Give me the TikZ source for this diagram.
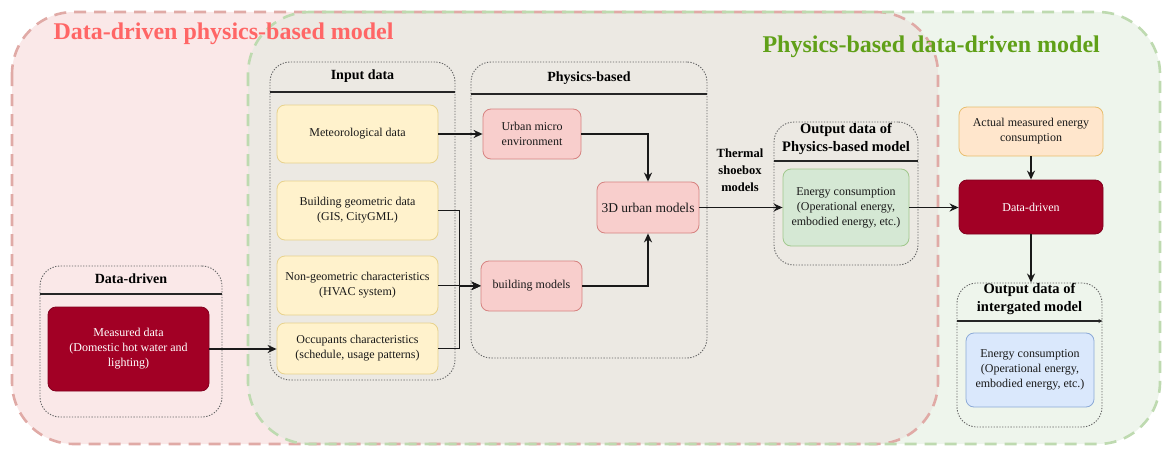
\documentclass[tikz,border=0pt]{standalone}
\usepackage{fontspec}
\setmainfont{Liberation Serif}
\usetikzlibrary{arrows.meta}

\definecolor{redzone}{RGB}{250,232,232}
\definecolor{greenzone}{RGB}{238,245,236}
\definecolor{bothzone}{RGB}{236,233,227}
\definecolor{reddash}{RGB}{224,170,166}
\definecolor{greendash}{RGB}{190,218,176}
\definecolor{redtitle}{RGB}{255,102,102}
\definecolor{greentitle}{RGB}{96,160,24}
\definecolor{yfill}{RGB}{255,242,204}
\definecolor{ydraw}{RGB}{232,210,140}
\definecolor{pfill}{RGB}{248,206,204}
\definecolor{pdraw}{RGB}{214,130,128}
\definecolor{gfill}{RGB}{213,232,212}
\definecolor{gdraw}{RGB}{160,200,140}
\definecolor{ofill}{RGB}{255,230,204}
\definecolor{odraw}{RGB}{232,190,110}
\definecolor{bfill}{RGB}{218,232,252}
\definecolor{bdraw}{RGB}{140,170,215}
\definecolor{crimson}{RGB}{162,0,37}
\definecolor{txt}{RGB}{25,25,25}

\tikzset{
  box/.style={rectangle, rounded corners=8pt, line width=0.8pt, align=center,
    inner sep=2pt, text=txt, font=\fontsize{12}{15}\selectfont},
  ybox/.style={box, fill=yfill, draw=ydraw},
  pbox/.style={box, fill=pfill, draw=pdraw},
  gbox/.style={box, fill=gfill, draw=gdraw},
  obox/.style={box, fill=ofill, draw=odraw},
  bbox/.style={box, fill=bfill, draw=bdraw},
  dbox/.style={box, fill=crimson, draw=crimson!80!black, text=white},
  cont/.style={rectangle, rounded corners=20pt, draw=black!60, line width=0.9pt,
    dash pattern=on 1.3pt off 1.5pt, inner sep=0pt},
  hdr/.style={font=\bfseries\fontsize{14}{17}\selectfont, align=center, text=black},
  hline/.style={line width=1.7pt, black!85},
  conn/.style={line width=1.8pt, black!90, -{Stealth[length=9pt,width=8pt]}},
  zone/.style={rounded corners=62pt},
  zoneline/.style={rounded corners=62pt, line width=2.6pt, dash pattern=on 12pt off 8pt},
  zonetitle/.style={anchor=west, font=\bfseries\fontsize{24}{28}\selectfont},
}

\begin{document}
\begin{tikzpicture}[x=1pt,y=-1pt]
\useasboundingbox (0,0) rectangle (1170,452);

% two overlapping model regions
\fill[zone, redzone] (12,12) rectangle (938,444);
\fill[zone, greenzone] (248,12) rectangle (1160,444);
\begin{scope}
  \clip[zone] (12,12) rectangle (938,444);
  \fill[zone, bothzone] (248,12) rectangle (1160,444);
\end{scope}
\draw[zoneline, reddash] (12,12) rectangle (938,444);
\draw[zoneline, greendash] (248,12) rectangle (1160,444);

\node[zonetitle, text=redtitle] (ttl1) at (50,34) {Data-driven physics-based model};
\node[zonetitle, text=greentitle] (ttl2) at (759,47) {Physics-based data-driven model};

% containers
\node[cont, minimum width=185pt, minimum height=318pt] (inputC) at (362.5,221) {};
\node[hdr] (inputH) at (362.5,76) {Input data};
\draw[hline] (inputC.west |- 0,92) -- (inputC.east |- 0,92);

\node[cont, minimum width=236pt, minimum height=296pt] (physC) at (589,210) {};
\node[hdr] (physH) at (589,78) {Physics-based};
\draw[hline] (physC.west |- 0,94) -- (physC.east |- 0,94);

\node[cont, minimum width=144pt, minimum height=143pt] (outPC) at (846,193.5) {};
\node[hdr, font=\bfseries\fontsize{14.5}{18}\selectfont] (outPH) at (846,139) {Output data of\\Physics-based model};
\draw[hline] (outPC.west |- 0,161) -- (outPC.east |- 0,161);

\node[cont, minimum width=145pt, minimum height=144pt] (outIC) at (1029.5,355) {};
\node[hdr, font=\bfseries\fontsize{14.5}{18}\selectfont] (outIH) at (1029.5,299) {Output data of\\intergated model};
\draw[hline, -{Stealth[length=4pt,width=4pt]}] (outIC.west |- 0,321) -- (outIC.east |- 0,321);

\node[cont, minimum width=182pt, minimum height=151pt] (ddC) at (131,341.5) {};
\node[hdr] (ddH) at (131,279) {Data-driven};
\draw[hline] (ddC.west |- 0,294) -- (ddC.east |- 0,294);

% input data
\node[ybox, minimum width=161pt, minimum height=58pt] (met) at (357.5,134) {Meteorological data};
\node[ybox, minimum width=161pt, minimum height=59pt] (geo) at (357.5,210.5) {Building geometric data\\(GIS, CityGML)};
\node[ybox, minimum width=161pt, minimum height=59pt] (ngeo) at (357.5,285.5) {Non-geometric characteristics\\(HVAC system)};
\node[ybox, minimum width=161pt, minimum height=51pt] (occ) at (357.5,348.5) {Occupants characteristics\\(schedule, usage patterns)};

% physics-based models
\node[pbox, minimum width=98pt, minimum height=50pt] (umi) at (532,134) {Urban micro\\environment};
\node[pbox, minimum width=102pt, minimum height=51pt, font=\fontsize{13.5}{15}\selectfont] (d3) at (648,207.5) {3D urban models};
\node[pbox, minimum width=101pt, minimum height=50pt] (bm) at (531.5,286) {building models};

% outputs and data-driven part
\node[gbox, minimum width=126pt, minimum height=77pt] (eco) at (846,207.5) {Energy consumption\\(Operational energy,\\embodied energy, etc.)};
\node[obox, minimum width=144pt, minimum height=49pt] (act) at (1031,131.5) {Actual measured energy\\consumption};
\node[dbox, minimum width=144pt, minimum height=54pt] (dd) at (1031,207) {Data-driven};
\node[bbox, minimum width=128pt, minimum height=74pt] (eci) at (1030,370) {Energy consumption\\(Operational energy,\\embodied energy, etc.)};
\node[dbox, minimum width=161pt, minimum height=84pt] (meas) at (128.5,349) {Measured data\\(Domestic hot water and\\lighting)};

\node[font=\bfseries\fontsize{12.5}{17}\selectfont, align=center, text=black] (tsm) at (740,170) {Thermal\\shoebox\\models};

% connectors
\draw[conn] (meas.east) -- (meas.east -| occ.west);
\draw[conn] (met.east) -- (met.east -| umi.west);
\draw[conn] (geo.east) -- ++(21,0) |- (bm.west);
\draw[conn] (occ.east) -- ++(21,0) |- (bm.west);
\draw[conn] (ngeo.east) -- (ngeo.east -| bm.west);
\draw[conn] (umi.east) -| (d3.north);
\draw[conn] (bm.east) -| (d3.south);
\draw[conn] (d3.east) -- (eco.west);
\draw[conn] (eco.east) -- (eco.east -| dd.west);
\draw[conn] (act.south) -- (dd.north);
\draw[conn] (dd.south) -- (dd.south |- outIC.north);
\end{tikzpicture}
\end{document}
